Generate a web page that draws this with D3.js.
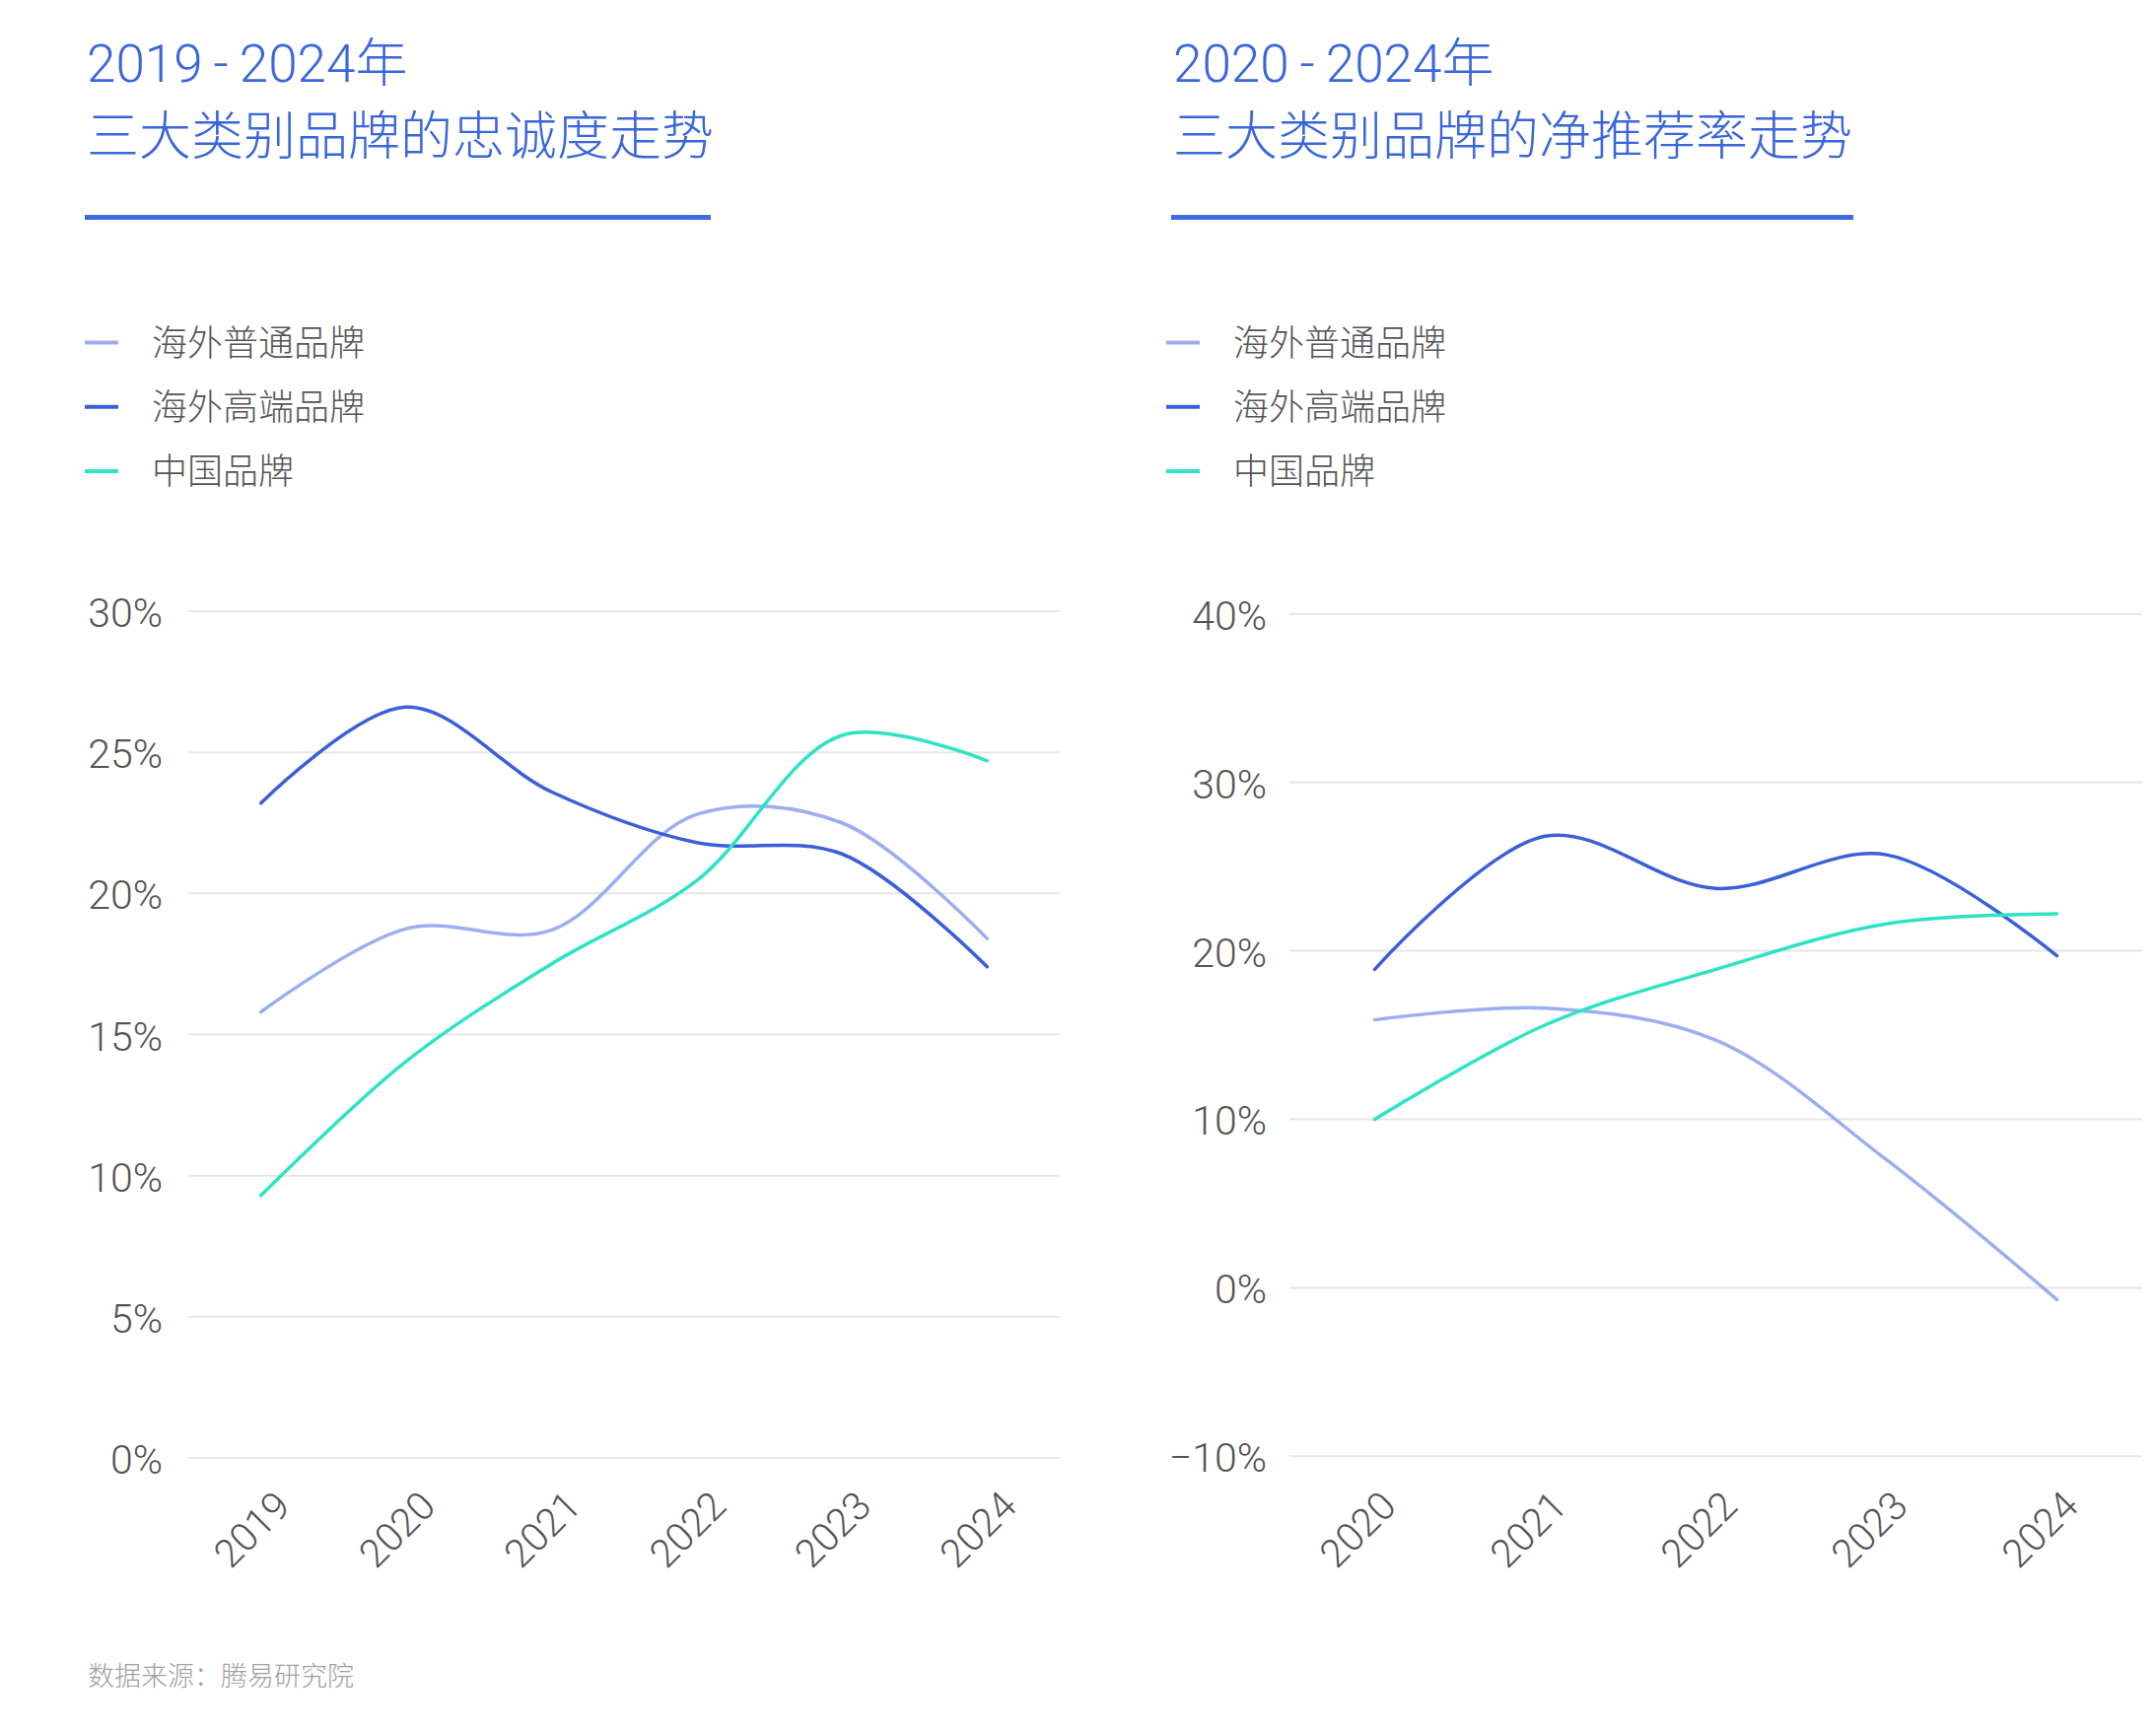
<!DOCTYPE html>
<html>
<head>
<meta charset="utf-8">
<script src="https://cdn.jsdelivr.net/npm/d3@7"></script>
<style>
  html, body { margin: 0; padding: 0; background: #ffffff; }
  svg { display: block; }
</style>
</head>
<body>
<svg id="chart" width="2187" height="1755"></svg>
<script>
// ---------------- DATA ----------------
const seriesNames = ["海外普通品牌", "海外高端品牌", "中国品牌"];
const seriesColors = ["#9aaef0", "#3b5fd9", "#2ee3c4"];

// Left chart: loyalty 2019-2024
const loyaltyYears = ["2019", "2020", "2021", "2022", "2023", "2024"];
const loyaltyOverseasRegular = [15.8, 18.75, 18.7, 22.8, 22.5, 18.4];
const loyaltyOverseasPremium = [23.2, 26.6, 23.6, 21.8, 21.4, 17.4];
const loyaltyChina = [9.3, 14.05, 17.5, 20.45, 25.6, 24.7];
const loyaltyTicks = [0, 5, 10, 15, 20, 25, 30];

// Right chart: NPS 2020-2024
const npsYears = ["2020", "2021", "2022", "2023", "2024"];
const npsOverseasRegular = [15.9, 16.6, 14.7, 7.6, -0.7];
const npsOverseasPremium = [18.9, 26.8, 23.7, 25.7, 19.7];
const npsChina = [10.0, 15.6, 18.9, 21.6, 22.2];
const npsTicks = [-10, 0, 10, 20, 30, 40];

// Title pieces: [start year, end year + 年, subtitle]
const titleLeft = ["2019", "2024年", "三大类别品牌的忠诚度走势"];
const titleRight = ["2020", "2024年", "三大类别品牌的净推荐率走势"];
const sourceText = "数据来源：腾易研究院";

// ---------------- DRAW ----------------
const svg = d3.select("#chart");
const cjk = "'Noto Sans CJK SC', 'Noto Sans', sans-serif";
const num = "Roboto, 'Helvetica Neue', Arial, sans-serif";
const titleFont = "Roboto, 'Noto Sans CJK SC', sans-serif";

function drawPanel(cfg) {
  const g = svg.append("g");

  // Title line 1
  const t1 = g.append("text")
    .attr("x", cfg.titleX).attr("y", 83)
    .attr("font-family", titleFont).attr("font-weight", 300)
    .attr("font-size", 53).attr("fill", "#3a66db");
  t1.append("tspan").text(cfg.title[0]);
  t1.append("tspan").attr("dx", 11).text("-");
  t1.append("tspan").attr("dx", 11).text(cfg.title[1]);
  // Title line 2
  g.append("text")
    .attr("x", cfg.titleX).attr("y", 157)
    .attr("font-family", cjk).attr("font-weight", 300)
    .attr("font-size", 53).attr("fill", "#3a66db")
    .text(cfg.title[2]);
  g.append("rect")
    .attr("x", cfg.titleX - 2).attr("y", 218)
    .attr("width", cfg.underlineW).attr("height", 5)
    .attr("fill", "#3d69e3");

  // Legend
  const legY = d3.scalePoint().domain(seriesNames).range([347.5, 478]);
  const leg = g.selectAll("g.leg").data(seriesNames).join("g").attr("class", "leg");
  leg.append("line")
    .attr("x1", cfg.legendX).attr("x2", cfg.legendX + 34)
    .attr("y1", d => legY(d)).attr("y2", d => legY(d))
    .attr("stroke", (d, i) => seriesColors[i]).attr("stroke-width", 4);
  leg.append("text")
    .attr("x", cfg.legendX + 68).attr("y", d => legY(d) - 3)
    .attr("dominant-baseline", "central")
    .attr("font-family", cjk).attr("font-weight", 300)
    .attr("font-size", 36).attr("fill", "#555")
    .text(d => d);

  // Scales
  const x = d3.scalePoint().domain(cfg.years).range(cfg.xRange).padding(0.5);
  const y = d3.scaleLinear().domain(cfg.yDomain).range(cfg.yRange);

  // Gridlines
  g.selectAll("line.grid").data(cfg.ticks).join("line")
    .attr("class", "grid")
    .attr("x1", cfg.xRange[0]).attr("x2", cfg.xRange[1])
    .attr("y1", d => y(d)).attr("y2", d => y(d))
    .attr("stroke", "#e6e6e6").attr("stroke-width", 2);

  // Y labels
  g.selectAll("text.ylab").data(cfg.ticks).join("text")
    .attr("class", "ylab")
    .attr("x", cfg.yLabelX).attr("y", d => y(d) + 2)
    .attr("text-anchor", "end").attr("dominant-baseline", "central")
    .attr("font-family", num).attr("font-weight", 300)
    .attr("font-size", 41).attr("fill", "#555")
    .text(d => (d < 0 ? "\u2212" + Math.abs(d) : d) + "%");

  // X labels
  g.selectAll("text.xlab").data(cfg.years).join("text")
    .attr("class", "xlab")
    .attr("transform", d => `translate(${x(d) + cfg.xLabelDx},${cfg.xLabelY}) rotate(-45)`)
    .attr("text-anchor", "end")
    .attr("font-family", num).attr("font-weight", 300)
    .attr("font-size", 40).attr("fill", "#555")
    .text(d => d);

  // Lines
  const line = d3.line()
    .x((d, i) => x(cfg.years[i]))
    .y(d => y(d))
    .curve(d3.curveCatmullRom.alpha(0.5));
  cfg.series.forEach((vals, i) => {
    g.append("path")
      .attr("d", line(vals))
      .attr("fill", "none")
      .attr("stroke", seriesColors[i])
      .attr("stroke-width", 3.5)
      .attr("stroke-linecap", "round");
  });
}

drawPanel({
  title: titleLeft, titleX: 88, underlineW: 635, legendX: 86,
  years: loyaltyYears, xRange: [191, 1075],
  yDomain: [0, 30], yRange: [1479, 620], ticks: loyaltyTicks,
  yLabelX: 165, xLabelY: 1530, xLabelDx: 32,
  series: [loyaltyOverseasRegular, loyaltyOverseasPremium, loyaltyChina]
});

drawPanel({
  title: titleRight, titleX: 1190, underlineW: 692, legendX: 1183,
  years: npsYears, xRange: [1308, 2173],
  yDomain: [-10, 40], yRange: [1477.3, 622.7], ticks: npsTicks,
  yLabelX: 1285, xLabelY: 1530, xLabelDx: 24,
  series: [npsOverseasRegular, npsOverseasPremium, npsChina]
});

// Source
svg.append("text")
  .attr("x", 89).attr("y", 1698)
  .attr("dominant-baseline", "central")
  .attr("font-family", cjk).attr("font-weight", 300)
  .attr("font-size", 27).attr("fill", "#a0a0a0")
  .text(sourceText);
</script>
</body>
</html>
